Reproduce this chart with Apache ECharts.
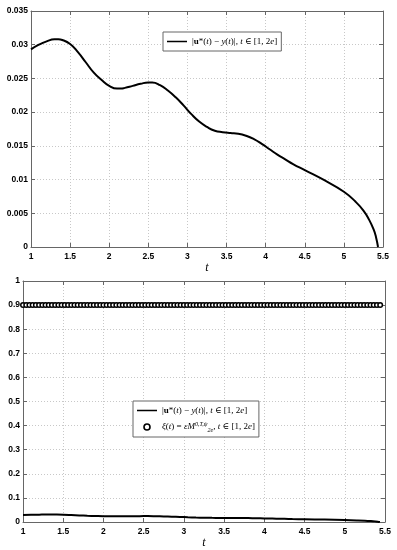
<!DOCTYPE html>
<html>
<head>
<meta charset="utf-8">
<script src="https://cdn.jsdelivr.net/npm/echarts@6/dist/echarts.min.js"></script>
<style>
html,body{margin:0;padding:0;background:#fff;}
#c{width:397px;height:550px;}
</style>
</head>
<body>
<div id="c"></div>
<script>
// ---- data ----
const xTicks = [1, 1.5, 2, 2.5, 3, 3.5, 4, 4.5, 5, 5.5];
const errT = [1.00, 1.10, 1.20, 1.30, 1.35, 1.40, 1.50, 1.60, 1.70, 1.80, 1.90, 2.00, 2.10, 2.15, 2.20, 2.30, 2.40, 2.50, 2.55, 2.65, 2.75, 2.85, 2.95, 3.05, 3.15, 3.25, 3.35, 3.45, 3.55, 3.65, 3.75, 3.85, 3.95, 4.05, 4.15, 4.25, 4.35, 4.50, 4.75, 5.00, 5.15, 5.25, 5.32, 5.38, 5.41, 5.4366];
const errV = [0.0293, 0.0300, 0.0305, 0.0308, 0.0308, 0.0307, 0.0301, 0.0289, 0.0274, 0.0259, 0.0248, 0.0239, 0.0235, 0.0235, 0.0236, 0.0239, 0.0242, 0.0244, 0.0244, 0.0240, 0.0232, 0.0222, 0.0210, 0.0197, 0.0186, 0.0178, 0.01725, 0.01703, 0.0169, 0.0168, 0.0165, 0.0160, 0.0153, 0.0145, 0.0137, 0.0130, 0.0123, 0.0114, 0.0099, 0.0082, 0.0067, 0.0054, 0.0041, 0.0026, 0.0015, 0.0];
const xiT = [1.00,1.04,1.08,1.12,1.16,1.20,1.24,1.28,1.32,1.36,
  1.40,1.44,1.48,1.52,1.56,1.60,1.64,1.68,1.72,1.76,
  1.80,1.84,1.88,1.92,1.96,2.00,2.04,2.08,2.12,2.16,
  2.20,2.24,2.28,2.32,2.36,2.40,2.44,2.48,2.52,2.56,
  2.60,2.64,2.68,2.72,2.76,2.80,2.84,2.88,2.92,2.96,
  3.00,3.04,3.08,3.12,3.16,3.20,3.24,3.28,3.32,3.36,
  3.40,3.44,3.48,3.52,3.56,3.60,3.64,3.68,3.72,3.76,
  3.80,3.84,3.88,3.92,3.96,4.00,4.04,4.08,4.12,4.16,
  4.20,4.24,4.28,4.32,4.36,4.40,4.44,4.48,4.52,4.56,
  4.60,4.64,4.68,4.72,4.76,4.80,4.84,4.88,4.92,4.96,
  5.00,5.04,5.08,5.12,5.16,5.20,5.24,5.28,5.32,5.36,5.40,5.44];
const xiV = [0.9,0.9,0.9,0.9,0.9,0.9,0.9,0.9,0.9,0.9,
  0.9,0.9,0.9,0.9,0.9,0.9,0.9,0.9,0.9,0.9,
  0.9,0.9,0.9,0.9,0.9,0.9,0.9,0.9,0.9,0.9,
  0.9,0.9,0.9,0.9,0.9,0.9,0.9,0.9,0.9,0.9,
  0.9,0.9,0.9,0.9,0.9,0.9,0.9,0.9,0.9,0.9,
  0.9,0.9,0.9,0.9,0.9,0.9,0.9,0.9,0.9,0.9,
  0.9,0.9,0.9,0.9,0.9,0.9,0.9,0.9,0.9,0.9,
  0.9,0.9,0.9,0.9,0.9,0.9,0.9,0.9,0.9,0.9,
  0.9,0.9,0.9,0.9,0.9,0.9,0.9,0.9,0.9,0.9,
  0.9,0.9,0.9,0.9,0.9,0.9,0.9,0.9,0.9,0.9,
  0.9,0.9,0.9,0.9,0.9,0.9,0.9,0.9,0.9,0.9,0.9,0.9];
const topYTicks = [0, 0.005, 0.01, 0.015, 0.02, 0.025, 0.03, 0.035];
const botYTicks = [0, 0.1, 0.2, 0.3, 0.4, 0.5, 0.6, 0.7, 0.8, 0.9, 1];
const nameErr = 'err';
const nameXi = 'xi';

// ---- chart ----
const chart = echarts.init(document.getElementById('c'), null, {renderer: 'canvas'});
const lblFont = {color: '#000', fontWeight: 'bold', fontSize: 8.5, fontFamily: 'Liberation Sans, Arial, sans-serif'};
const axisCol = '#666';
function mainX(gi, nameGap) {
  return {
    type: 'value', gridIndex: gi, min: xTicks[0], max: xTicks[xTicks.length - 1], interval: 0.5,
    position: 'bottom',
    name: 't', nameLocation: 'middle', nameGap: nameGap,
    nameTextStyle: {fontFamily: 'Liberation Serif, DejaVu Serif, serif', fontStyle: 'italic', fontSize: 12, color: '#000'},
    axisLine: {show: true, onZero: false, lineStyle: {color: axisCol, width: 1}},
    axisTick: {show: true, inside: true, length: 4, lineStyle: {color: axisCol}},
    axisLabel: Object.assign({margin: 5}, lblFont),
    splitLine: {show: true, lineStyle: {color: '#c8c8c8', type: [1, 2], width: 1}}
  };
}
function mirrorX(gi) {
  return {
    type: 'value', gridIndex: gi, min: xTicks[0], max: xTicks[xTicks.length - 1], interval: 0.5,
    position: 'top',
    axisLine: {show: true, onZero: false, lineStyle: {color: axisCol, width: 1}},
    axisTick: {show: true, inside: true, length: 4, lineStyle: {color: axisCol}},
    axisLabel: {show: false}, splitLine: {show: false}
  };
}
function mainY(gi, ticks, interval) {
  return {
    type: 'value', gridIndex: gi, min: ticks[0], max: ticks[ticks.length - 1], interval: interval,
    position: 'left',
    axisLine: {show: true, onZero: false, lineStyle: {color: axisCol, width: 1}},
    axisTick: {show: true, inside: true, length: 4, lineStyle: {color: axisCol}},
    axisLabel: Object.assign({margin: 3}, lblFont),
    splitLine: {show: true, lineStyle: {color: '#c8c8c8', type: [1, 2], width: 1}}
  };
}
function mirrorY(gi, ticks, interval) {
  return {
    type: 'value', gridIndex: gi, min: ticks[0], max: ticks[ticks.length - 1], interval: interval,
    position: 'right',
    axisLine: {show: true, onZero: false, lineStyle: {color: axisCol, width: 1}},
    axisTick: {show: true, inside: true, length: 4, lineStyle: {color: axisCol}},
    axisLabel: {show: false}, splitLine: {show: false}
  };
}

const errPairs = errT.map((t, i) => [t, errV[i]]);
const xiPairs = xiT.map((t, i) => [t, xiV[i]]);

const serif = 'Liberation Serif, DejaVu Serif, serif';
const rich = {
  r: {fontFamily: serif, fontSize: 9, color: '#000'},
  i: {fontFamily: serif, fontStyle: 'italic', fontSize: 9, color: '#000'},
  b: {fontFamily: serif, fontWeight: 'bold', fontSize: 9, color: '#000'},
  sup: {fontFamily: serif, fontStyle: 'italic', fontSize: 6, color: '#000', verticalAlign: 'top', lineHeight: 12},
  sub: {fontFamily: serif, fontStyle: 'italic', fontSize: 6, color: '#000', verticalAlign: 'bottom', lineHeight: 12}
};
const errLabel = '{r||}{b|u}{r|*(}{i|t}{r|) − }{i|y}{r|(}{i|t}{r|)|, }{i|t}{r| ∈ [1, 2}{i|e}{r|]}';
const xiLabel = '{i|ξ}{r|(}{i|t}{r|) = }{i|εM}{sup|0,T,ψ}{sub|2e}{r|, }{i|t}{r| ∈ [1, 2}{i|e}{r|]}';
function fmt(n) { return n === nameErr ? errLabel : xiLabel; }

const lineIcon = 'path://M0,2.2 H20 V3.8 H0 Z M0,0 H0.01 V6 H0 Z';
const lineStyle = {color: '#000', width: 2};

chart.setOption({
  backgroundColor: '#fff',
  animation: false,
  grid: [
    {left: 31, top: 11, width: 352, height: 236},
    {left: 23, top: 281, width: 362, height: 243}
  ],
  xAxis: [mainX(0, 15), mirrorX(0), mainX(1, 15), mirrorX(1)],
  yAxis: [mainY(0, topYTicks, 0.005), mirrorY(0, topYTicks, 0.005), mainY(1, botYTicks, 0.1), mirrorY(1, botYTicks, 0.1)],
  legend: [
    {
      data: [{name: nameErr, icon: lineIcon, itemStyle: {color: '#000'}}],
      left: 163, top: 32, orient: 'vertical',
      itemWidth: 20, itemHeight: 6, padding: [5, 4, 5, 4],
      borderColor: '#666', borderWidth: 1, backgroundColor: '#fff',
      formatter: fmt, textStyle: {rich: rich}, selectedMode: false
    },
    {
      data: [
        {name: nameErr, icon: lineIcon, itemStyle: {color: '#000'}},
        {name: nameXi, icon: 'circle', itemStyle: {color: '#fff', borderColor: '#000', borderWidth: 1.6}}
      ],
      left: 133, top: 401, orient: 'vertical',
      itemWidth: 20, itemHeight: 6, itemGap: 6, padding: [5, 4, 4, 4],
      borderColor: '#666', borderWidth: 1, backgroundColor: '#fff',
      formatter: fmt, textStyle: {rich: rich}, selectedMode: false
    }
  ],
  series: [
    {
      name: nameErr, type: 'line', xAxisIndex: 0, yAxisIndex: 0, data: errPairs,
      smooth: 0.5, symbol: 'none', lineStyle: lineStyle, z: 5
    },
    {
      name: nameErr, type: 'line', xAxisIndex: 2, yAxisIndex: 2, data: errPairs,
      smooth: 0.5, symbol: 'none', lineStyle: lineStyle, z: 5
    },
    {
      name: nameXi, type: 'scatter', xAxisIndex: 2, yAxisIndex: 2, data: xiPairs,
      symbol: 'circle', symbolSize: 4.5,
      itemStyle: {color: '#fff', borderColor: '#000', borderWidth: 1.5, opacity: 1}, z: 6
    }
  ]
});
</script>
</body>
</html>
